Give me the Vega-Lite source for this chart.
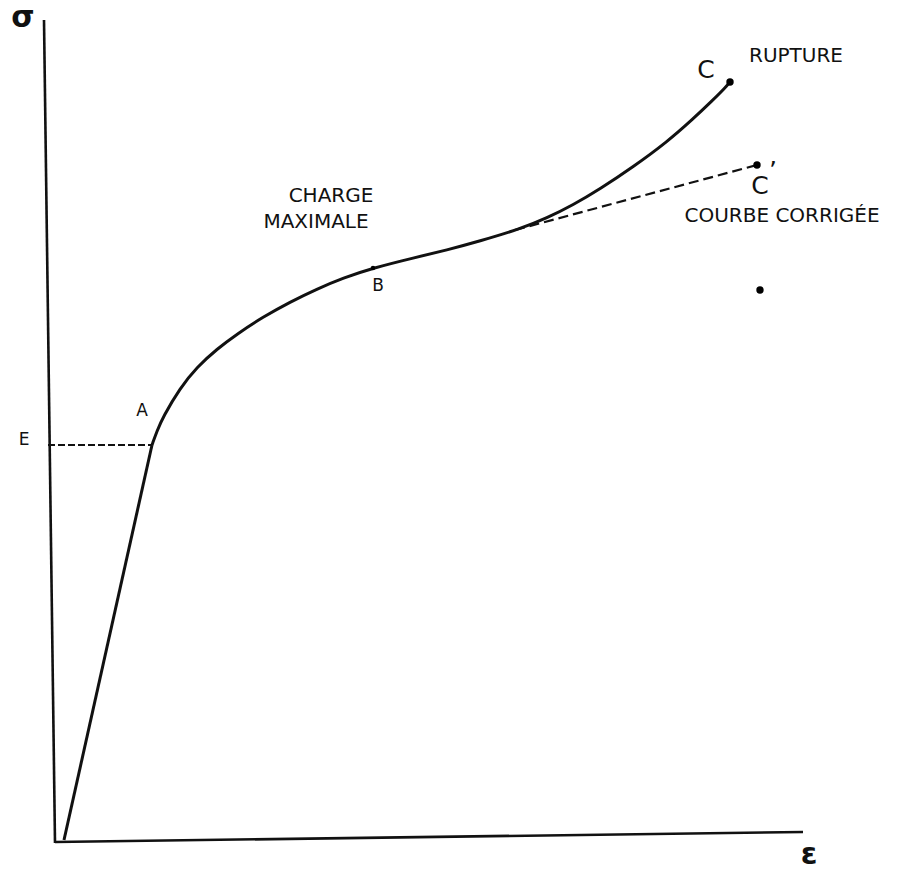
{
  "$schema": "https://vega.github.io/schema/vega-lite/v6.json",
  "width": 900,
  "height": 872,
  "padding": 0,
  "autosize": {"type": "fit", "contains": "padding"},
  "background": "white",
  "config": {"view": {"stroke": null}, "axis": {"disable": true}},
  "datasets": {
    "axes": [
      {"axis": "sigma", "eps": -0.16, "sig": 8.23},
      {"axis": "sigma", "eps": -0.05, "sig": 0.0},
      {"axis": "epsilon", "eps": -0.05, "sig": 0.01},
      {"axis": "epsilon", "eps": 7.43, "sig": 0.11}
    ],
    "elastic": [
      {"eps": 0.04, "sig": 0.03},
      {"eps": 0.92, "sig": 3.98}
    ],
    "curve": [
      {"eps": 0.92, "sig": 3.98},
      {"eps": 0.97, "sig": 4.12},
      {"eps": 1.03, "sig": 4.26},
      {"eps": 1.2, "sig": 4.55},
      {"eps": 1.37, "sig": 4.76},
      {"eps": 1.57, "sig": 4.94},
      {"eps": 1.77, "sig": 5.09},
      {"eps": 2.03, "sig": 5.26},
      {"eps": 2.3, "sig": 5.41},
      {"eps": 2.57, "sig": 5.54},
      {"eps": 2.83, "sig": 5.65},
      {"eps": 3.13, "sig": 5.75},
      {"eps": 3.53, "sig": 5.85},
      {"eps": 3.87, "sig": 5.93},
      {"eps": 4.2, "sig": 6.02},
      {"eps": 4.6, "sig": 6.14},
      {"eps": 4.87, "sig": 6.25},
      {"eps": 5.13, "sig": 6.38},
      {"eps": 5.4, "sig": 6.54},
      {"eps": 5.73, "sig": 6.76},
      {"eps": 6.07, "sig": 7.01},
      {"eps": 6.33, "sig": 7.24},
      {"eps": 6.53, "sig": 7.43},
      {"eps": 6.65, "sig": 7.55},
      {"eps": 6.7, "sig": 7.61}
    ],
    "eline": [
      {"eps": -0.12, "sig": 3.98},
      {"eps": 0.92, "sig": 3.98}
    ],
    "corrected": [
      {"eps": 4.55, "sig": 6.13},
      {"eps": 6.97, "sig": 6.78}
    ],
    "dots": [
      {"name": "C", "eps": 6.7, "sig": 7.61},
      {"name": "C'", "eps": 6.97, "sig": 6.78},
      {"name": "stray", "eps": 7.0, "sig": 5.53}
    ],
    "smalldots": [
      {"name": "B", "eps": 3.13, "sig": 5.75}
    ],
    "symbols": [
      {"label": "σ", "eps": -0.37, "sig": 8.25},
      {"label": "ε", "eps": 7.49, "sig": -0.12}
    ],
    "points": [
      {"label": "C", "eps": 6.46, "sig": 7.73},
      {"label": "C", "eps": 7.0, "sig": 6.57},
      {"label": "’", "eps": 7.13, "sig": 6.72}
    ],
    "labels": [
      {"label": "CHARGE", "eps": 2.71, "sig": 6.47},
      {"label": "MAXIMALE", "eps": 2.56, "sig": 6.21},
      {"label": "RUPTURE", "eps": 7.36, "sig": 7.87},
      {"label": "COURBE CORRIGÉE", "eps": 7.22, "sig": 6.27}
    ],
    "letters": [
      {"label": "E", "eps": -0.36, "sig": 4.03},
      {"label": "A", "eps": 0.82, "sig": 4.32},
      {"label": "B", "eps": 3.18, "sig": 5.57}
    ]
  },
  "encoding": {
    "x": {"field": "eps", "type": "quantitative", "scale": {"domain": [-0.6, 8.4], "nice": false, "zero": false}},
    "y": {"field": "sig", "type": "quantitative", "scale": {"domain": [-0.29, 8.43], "nice": false, "zero": false}}
  },
  "layer": [
    {
      "data": {"name": "axes"},
      "mark": {"type": "line", "color": "#111", "strokeWidth": 2.6},
      "encoding": {"detail": {"field": "axis"}}
    },
    {
      "data": {"name": "elastic"},
      "mark": {"type": "line", "color": "#111", "strokeWidth": 3}
    },
    {
      "data": {"name": "curve"},
      "mark": {"type": "line", "color": "#111", "strokeWidth": 3, "interpolate": "basis"}
    },
    {
      "data": {"name": "eline"},
      "mark": {"type": "line", "color": "#111", "strokeWidth": 2, "strokeDash": [7, 3]}
    },
    {
      "data": {"name": "corrected"},
      "mark": {"type": "line", "color": "#111", "strokeWidth": 2.2, "strokeDash": [10, 5]}
    },
    {
      "data": {"name": "dots"},
      "mark": {"type": "point", "filled": true, "color": "#000", "size": 55, "opacity": 1}
    },
    {
      "data": {"name": "smalldots"},
      "mark": {"type": "point", "filled": true, "color": "#000", "size": 20, "opacity": 1}
    },
    {
      "data": {"name": "symbols"},
      "mark": {"type": "text", "font": "DejaVu Sans", "fontWeight": "bold", "fontSize": 30, "color": "#111", "align": "center", "baseline": "middle"},
      "encoding": {"text": {"field": "label"}}
    },
    {
      "data": {"name": "points"},
      "mark": {"type": "text", "font": "DejaVu Sans", "fontSize": 25, "color": "#111", "align": "center", "baseline": "middle"},
      "encoding": {"text": {"field": "label"}}
    },
    {
      "data": {"name": "labels"},
      "mark": {"type": "text", "font": "DejaVu Sans", "fontSize": 20, "color": "#111", "align": "center", "baseline": "middle"},
      "encoding": {"text": {"field": "label"}}
    },
    {
      "data": {"name": "letters"},
      "mark": {"type": "text", "font": "DejaVu Sans", "fontSize": 17, "color": "#111", "align": "center", "baseline": "middle"},
      "encoding": {"text": {"field": "label"}}
    }
  ]
}
